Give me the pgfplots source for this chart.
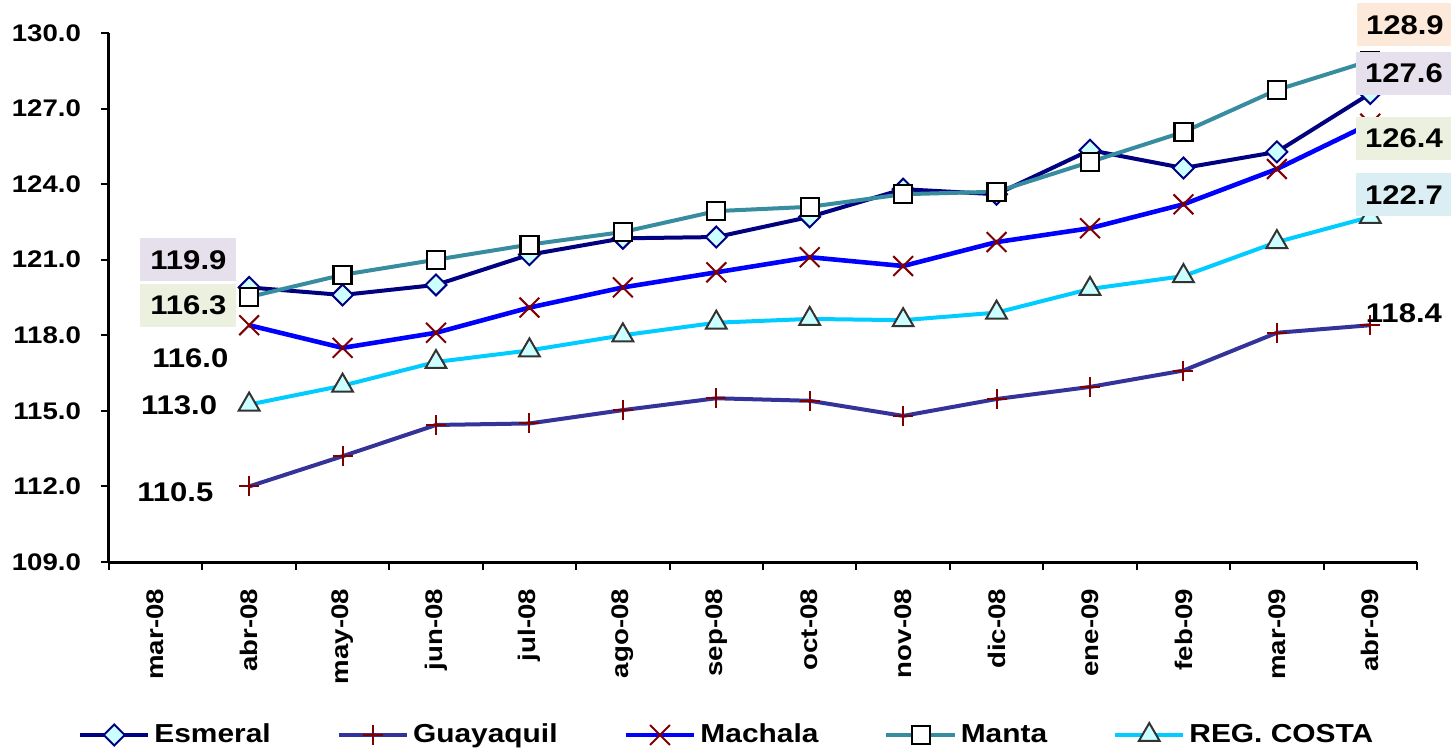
\documentclass[border=0pt]{standalone}
\usepackage{fontspec}
\setmainfont{Liberation Sans}[FakeStretch=1.15]
\usepackage{pgfplots}
\pgfplotsset{compat=1.18}

\definecolor{esm}{RGB}{0,0,128}
\definecolor{guay}{RGB}{51,51,153}
\definecolor{mach}{RGB}{0,0,255}
\definecolor{manta}{RGB}{55,140,160}
\definecolor{costa}{RGB}{0,204,255}
\definecolor{mfill}{RGB}{204,255,255}
\definecolor{dred}{RGB}{128,0,0}
\definecolor{boxlav}{RGB}{230,224,236}
\definecolor{boxolv}{RGB}{235,241,222}
\definecolor{boxpch}{RGB}{253,233,217}
\definecolor{boxblu}{RGB}{219,238,243}

\newcommand{\lbl}{\fontsize{13.5}{16}\selectfont\bfseries}
\tikzset{caja/.style={minimum width=48pt, minimum height=21.5pt, inner sep=0pt, font=\lbl}}

\begin{document}
\begin{tikzpicture}
\begin{axis}[
    scale only axis,
    width=654pt, height=264.5pt,
    xmin=-0.5, xmax=13.5,
    ymin=109, ymax=130,
    axis lines*=left,
    axis line style={line width=1.5pt},
    ytick={109,112,...,130},
    xtick={0,...,13},
    xticklabels={mar-08,abr-08,may-08,jun-08,jul-08,ago-08,sep-08,oct-08,nov-08,dic-08,ene-09,feb-09,mar-09,abr-09},
    major x tick style={draw=none},
    minor xtick={-0.5,0.5,1.5,2.5,3.5,4.5,5.5,6.5,7.5,8.5,9.5,10.5,11.5,12.5,13.5},
    tick align=outside,
    tick style={black, line width=1pt},
    major tick length=4pt, minor tick length=4pt,
    /pgf/number format/assume math mode=true,
    /pgf/number format/fixed,
    /pgf/number format/fixed zerofill,
    /pgf/number format/precision=1,
    y tick label style={font=\fontsize{12}{14}\selectfont\bfseries, xshift=-6.5pt},
    x tick label style={font=\fontsize{12}{14}\selectfont\bfseries, rotate=90, anchor=east, xshift=-6pt},
    clip=false,
    legend columns=5,
    legend style={draw=none, fill=none, at={(0.473,-0.327)}, anchor=center,
        font=\fontsize{13}{15}\selectfont\bfseries,
        /tikz/every even column/.append style={column sep=31pt}},
    legend image code/.code={\draw[mark repeat=2, mark phase=2] plot coordinates {(0cm,0cm) (0.6cm,0cm) (1.2cm,0cm)};},
]
\addplot[esm, line width=2pt, mark=square*, mark size=3.7pt,
    mark options={rotate=45, fill=mfill, draw=esm, line width=1pt}]
    coordinates {(1,119.9) (2,119.6) (3,120.0) (4,121.2) (5,121.85) (6,121.9) (7,122.7) (8,123.8) (9,123.6) (10,125.35) (11,124.64) (12,125.28) (13,127.6)};
\addlegendentry{Esmeral}
\addplot[guay, line width=2pt, mark=+, mark size=5pt,
    mark options={draw=dred, line width=1pt}]
    coordinates {(1,112.0) (2,113.2) (3,114.44) (4,114.5) (5,115.03) (6,115.5) (7,115.4) (8,114.8) (9,115.47) (10,115.95) (11,116.6) (12,118.1) (13,118.4)};
\addlegendentry{Guayaquil}
\addplot[mach, line width=2.3pt, mark=x, mark size=7pt,
    mark options={draw=dred, line width=1pt}]
    coordinates {(1,118.4) (2,117.5) (3,118.1) (4,119.1) (5,119.9) (6,120.5) (7,121.1) (8,120.75) (9,121.7) (10,122.25) (11,123.2) (12,124.6) (13,126.4)};
\addlegendentry{Machala}
\addplot[manta, line width=2pt, mark=square*, mark size=4.5pt,
    mark options={fill=white, draw=black, line width=1.1pt}]
    coordinates {(1,119.52) (2,120.4) (3,121.0) (4,121.6) (5,122.1) (6,122.93) (7,123.1) (8,123.6) (9,123.7) (10,124.88) (11,126.07) (12,127.74) (13,128.9)};
\addlegendentry{Manta}
\addplot[costa, line width=2pt, mark=triangle*, mark size=6pt,
    mark options={fill=mfill, draw=black!80, line width=1pt}]
    coordinates {(1,115.25) (2,116.0) (3,116.94) (4,117.4) (5,118.0) (6,118.5) (7,118.65) (8,118.6) (9,118.9) (10,119.84) (11,120.35) (12,121.7) (13,122.7)};
\addlegendentry{REG. COSTA}

% posiciones de las etiquetas de datos
\coordinate (l1) at (axis cs:0.35,120.99);
\coordinate (l2) at (axis cs:0.35,119.2);
\coordinate (l3) at (axis cs:0.37,117.1);
\coordinate (l4) at (axis cs:0.25,115.23);
\coordinate (l5) at (axis cs:0.21,111.78);
\coordinate (r1) at (axis cs:13.37,130.32);
\coordinate (r2) at (axis cs:13.36,128.41);
\coordinate (r3) at (axis cs:13.36,125.83);
\coordinate (r4) at (axis cs:13.36,123.57);
\coordinate (r5) at (axis cs:13.36,118.88);
\end{axis}
% etiquetas encima de las series
\node[caja, fill=boxlav] at (l1) {119.9};
\node[caja, fill=boxolv] at (l2) {116.3};
\node[font=\lbl] at (l3) {116.0};
\node[font=\lbl] at (l4) {113.0};
\node[font=\lbl] at (l5) {110.5};
\node[caja, fill=boxpch] at (r1) {128.9};
\node[caja, fill=boxlav] at (r2) {127.6};
\node[caja, fill=boxolv] at (r3) {126.4};
\node[caja, fill=boxblu] at (r4) {122.7};
\node[font=\lbl] at (r5) {118.4};
\pgfresetboundingbox
\path ([shift={(-54.5pt,-94.5pt)}]current axis.south west) rectangle ([shift={(17pt,16.5pt)}]current axis.north east);
\end{tikzpicture}
\end{document}
